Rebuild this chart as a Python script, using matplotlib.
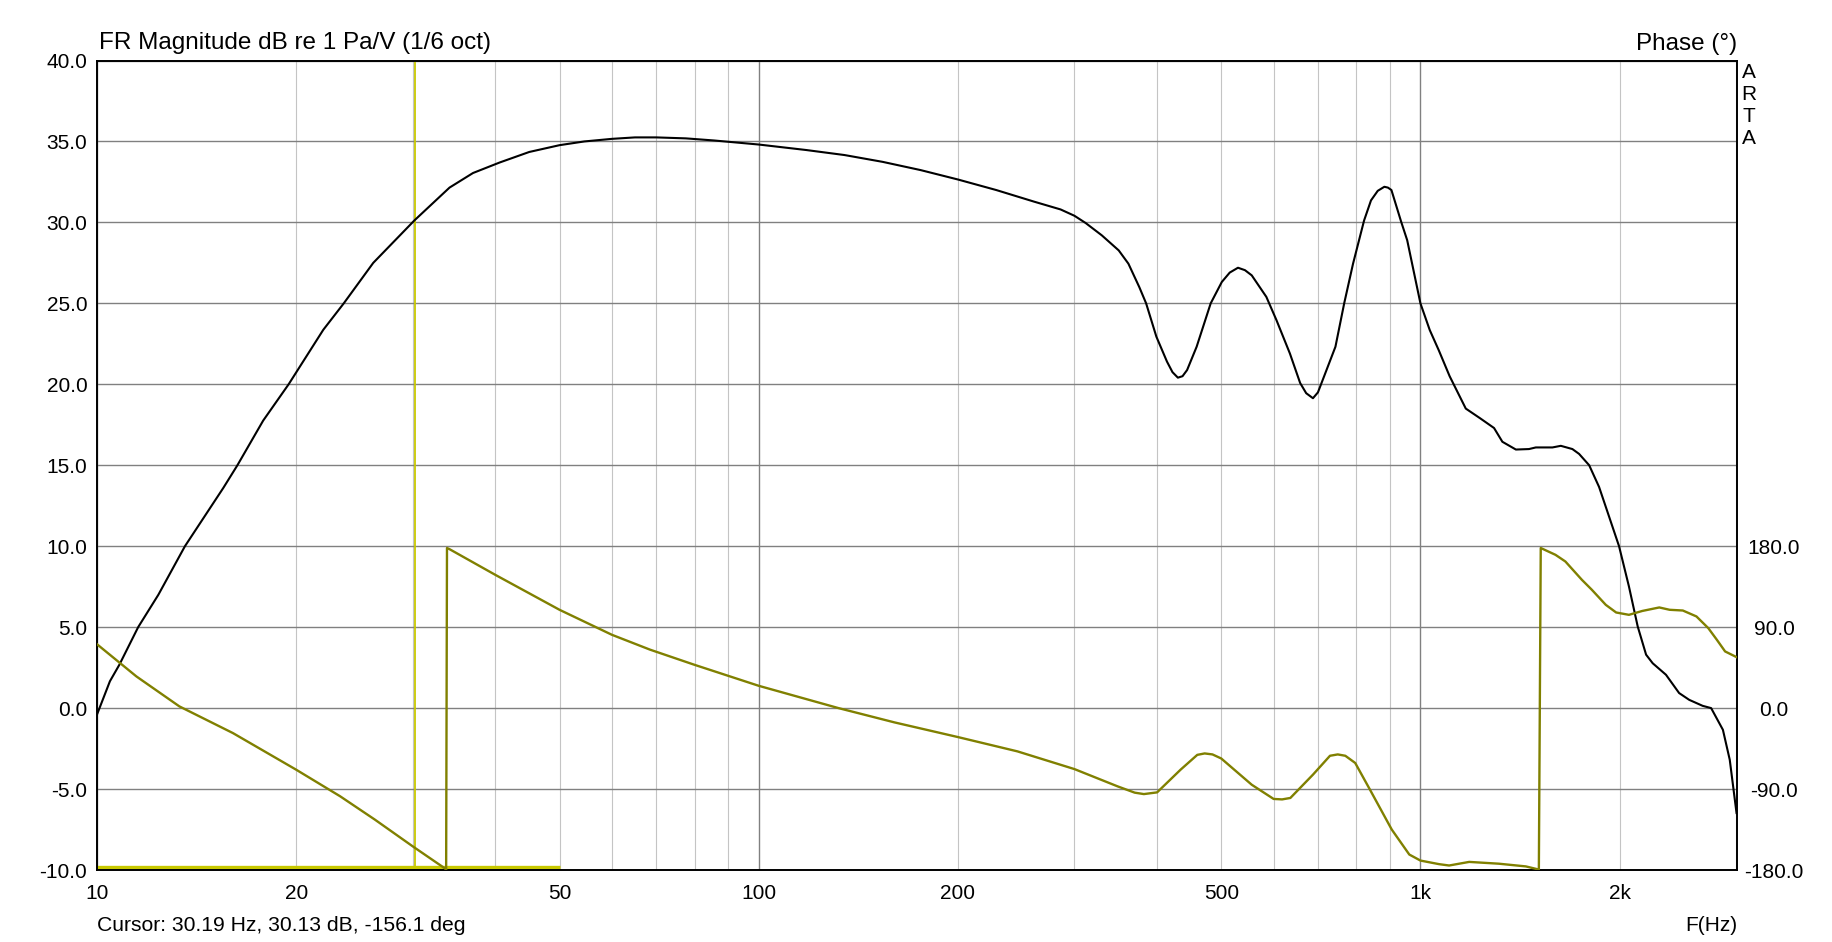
import numpy as np
import matplotlib
matplotlib.use("Agg")
import matplotlib.pyplot as plt

plt.rcParams['font.family'] = ['Liberation Sans', 'DejaVu Sans']

# magnitude (dB re 1 Pa/V)
mag_freq = [10, 10.46, 10.81, 11.54, 12.38, 13.58, 15.52, 16.3, 17.83, 19.48,
            21.98, 23.6, 26.15, 30.19, 34.1, 37, 40.6, 45, 50, 54.5, 60,
            65, 70, 77.6, 85.6, 100, 118, 134.8, 153.9, 175.7, 200,
            228.5, 260.8, 285.9, 300, 312, 330, 350, 362, 376, 385,
            399, 414, 422, 430, 437, 444, 459, 482, 501, 515, 530, 543, 556, 585,
            606, 635, 658, 672, 688, 700, 713, 744, 767, 791, 822, 842,
            862, 882, 893, 904, 935, 955, 1000, 1033, 1066, 1107, 1171, 1231,
            1292, 1330, 1394, 1459, 1494, 1583, 1630, 1697, 1737, 1799,
            1862, 1929, 1996, 2066, 2130, 2193, 2244, 2350, 2460, 2548,
            2670, 2750, 2865, 2934, 3004]
mag_db = [-0.4, 1.66, 2.68, 5.0, 7.0, 10.0, 13.6, 15.0, 17.76, 20.0,
          23.37, 25.0, 27.5, 30.13, 32.15, 33.05, 33.7, 34.35, 34.77, 35.0, 35.16,
          35.25, 35.25, 35.19, 35.06, 34.81, 34.47, 34.16, 33.74, 33.23, 32.65,
          32.0, 31.28, 30.8, 30.41, 29.96, 29.2, 28.27, 27.45, 26.0, 25.0,
          22.94, 21.4, 20.75, 20.41, 20.5, 20.88, 22.32, 25.0, 26.32, 26.9, 27.2, 27.05, 26.73, 25.4,
          23.96, 21.9, 20.08, 19.45, 19.14, 19.5, 20.35, 22.32, 25.0, 27.45, 30.12, 31.36,
          31.95, 32.2, 32.15, 32.0, 30.05, 28.9, 25.0, 23.35, 22.1, 20.5, 18.5, 17.9,
          17.3, 16.45, 15.97, 16.0, 16.1, 16.1, 16.2, 16.0, 15.7, 15.0,
          13.66, 11.8, 10.0, 7.51, 5.04, 3.3, 2.77, 2.06, 0.93, 0.51,
          0.14, 0.0, -1.34, -3.19, -6.48]

# phase (deg), wrapped to +-180
ph_freq = [10, 11.47, 13.32, 16.05, 20, 23.3, 26.3, 30, 33.6, 33.7,
           33.8, 34.1, 40, 50, 60, 68.5, 80, 100, 132, 160.4,
           200, 246, 300, 348.6, 370, 382, 400, 434, 460, 472, 485, 500, 556,
           600, 618, 636, 688, 730, 750, 770, 797, 839, 905, 962, 1000, 1067,
           1105, 1185, 1314, 1443, 1510, 1520, 1600, 1656, 1754, 1816,
           1906, 1976, 2066, 2164, 2296, 2380, 2492, 2613, 2723, 2805,
           2887, 3004]
ph_deg = [71, 35.2, 1.9, -27.8, -68.5, -98, -124, -153.7, -178.5, -180,
          178, 176.7, 148.1, 109.3, 81.5, 65, 48.1, 24.8, 0, -15.9,
          -32.2, -48.1, -67.8, -87, -94, -95.6, -93.7, -68.5, -52, -50.4, -51.5, -56.0, -85.2,
          -101, -101.5, -99.9, -74, -53, -51.5, -53, -61, -90.7, -135, -162.8, -169.5, -173.5,
          -175, -171, -173, -176, -179.5, 178, 170.4, 163, 142.6, 131.5,
          114.8, 106.3, 103.7, 108, 111.9, 109.3, 108.5, 101.9, 88.9, 76,
          63, 56.7]

cursor_f = 30.19
band = [10, 50]
band_level = -9.8

major_f = [10, 100, 1000]
major_lab = ["10", "100", "1k"]
minor_f = [20, 30, 40, 50, 60, 70, 80, 90, 200, 300, 400, 500, 600, 700, 800, 900, 2000, 3000]
minor_lab = ["20", "", "", "50", "", "", "", "", "200", "", "", "500", "", "", "", "", "2k", ""]

W, H = 1833, 942
fig = plt.figure(figsize=(W / 100, H / 100), dpi=100)
L, R, T, B = 97, 1737, 60.5, 870
ax = fig.add_axes([L / W, 1 - B / H, (R - L) / W, (B - T) / H])

ax.set_xscale('log')
ax.set_xlim(10, 3009)
ax.set_ylim(-10, 40)
ax.set_xticks(major_f, major_lab)
ax.set_xticks(minor_f, minor_lab, minor=True)
ax.set_yticks(np.arange(-10, 41, 5))
ax.set_yticklabels(["%.1f" % v for v in np.arange(-10, 41, 5)])
ax.grid(which='major', color='#808080', lw=1.0)
ax.grid(which='minor', axis='x', color='#c4c4c4', lw=0.8)
ax.tick_params(which='both', length=0, labelsize=15)
ax.tick_params(axis='x', which='both', pad=10)
ax.tick_params(axis='y', pad=7)
for s in ax.spines.values():
    s.set_linewidth(1.4)
    s.set_color('black')

ax.axvline(cursor_f, color='#c8c800', lw=1.3, zorder=2)
ax.hlines(band_level, band[0], band[1], color='#c8c800', lw=2.4, zorder=2)
ax.plot(mag_freq, mag_db, color='black', lw=1.5, zorder=3)

ax2 = ax.twinx()
ax2.set_ylim(-180, 720)
ax2.set_yticks([-180, -90, 0, 90, 180])
ax2.set_yticklabels(["%.1f" % v for v in [-180, -90, 0, 90, 180]])
ax2.tick_params(length=0, labelsize=15, pad=26.6)
for lbl in ax2.get_yticklabels():
    lbl.set_ha('center')
for s in ax2.spines.values():
    s.set_visible(False)
ax2.plot(ph_freq, ph_deg, color='#808000', lw=1.7)

fig.text(99 / W, 1 - 49 / H, "FR Magnitude dB re 1 Pa/V (1/6 oct)", fontsize=17.5, va='baseline', ha='left')
fig.text(R / W, 1 - 50 / H, "Phase (°)", fontsize=17.5, va='baseline', ha='right')
fig.text(1749 / W, 1 - 63.5 / H, "A\nR\nT\nA", fontsize=15, va='top', ha='center', linespacing=1.2)
fig.text(L / W, 1 - 931 / H, "Cursor: 30.19 Hz, 30.13 dB, -156.1 deg", fontsize=15.2, va='baseline', ha='left')
fig.text(R / W, 1 - 931 / H, "F(Hz)", fontsize=15, va='baseline', ha='right')

fig.savefig("out.png", dpi=100)
